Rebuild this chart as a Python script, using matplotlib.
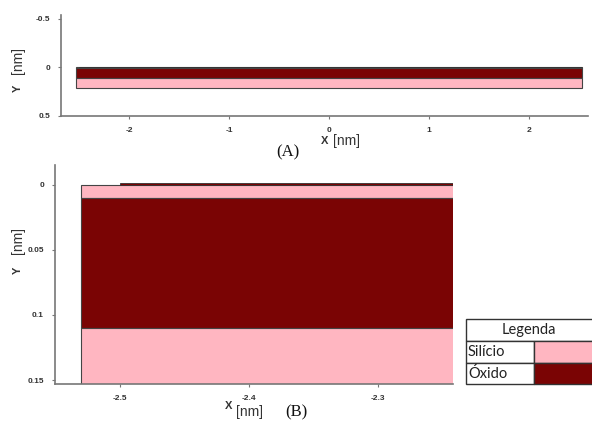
import matplotlib.pyplot as plt
from matplotlib.patches import Rectangle

# layer stack (y in nm, positive downward)
materials = ['Silício', 'Óxido', 'Silício']
layer_top = [0.0, 0.01, 0.11]
layer_bottom = [0.01, 0.11, 0.21]
x_left, x_right = -2.53, 2.53
# thin oxide cap on top surface
cap_x = [-2.5, 2.53]
cap_y = [-0.0012, 0.0]

colors = {'Silício': '#ffb6c1', 'Óxido': '#7a0404'}
edge = '#444444'

xticks_a = [-2, -1, 0, 1, 2]
yticks_a = [-0.5, 0, 0.5]
xticks_b = [-2.5, -2.4, -2.3]
yticks_b = [0, 0.05, 0.1, 0.15]
ytick_labels_b = ['0', '0.05', '0.1', '0.15']

fig = plt.figure(figsize=(5.92, 4.24), dpi=100)


def draw_stack(ax):
    for m, t, b in zip(materials, layer_top, layer_bottom):
        ax.add_patch(Rectangle((x_left, t), x_right - x_left, b - t,
                               facecolor=colors[m], edgecolor=edge, linewidth=0.8))
    ax.add_patch(Rectangle((cap_x[0], cap_y[0]), cap_x[1] - cap_x[0], cap_y[1] - cap_y[0],
                           facecolor=colors['Óxido'], edgecolor='#333333', linewidth=0.6))


def style(ax):
    for s in ['top', 'right']:
        ax.spines[s].set_visible(False)
    for s in ['left', 'bottom']:
        ax.spines[s].set_color('#777777')
        ax.spines[s].set_linewidth(1.2)
    ax.tick_params(length=2, width=0.8, color='#777777', labelsize=6, pad=6)
    for lbl in ax.get_xticklabels() + ax.get_yticklabels():
        lbl.set_fontweight('bold')
        lbl.set_fontfamily('Liberation Sans')
        lbl.set_color('#333333')


# panel A
ax1 = fig.add_axes([61 / 592, 1 - 116 / 424, 527 / 592, 101 / 424])
draw_stack(ax1)
ax1.set_xlim(-2.68, 2.59)
ax1.set_ylim(0.5, -0.54)
ax1.set_xticks(xticks_a)
ax1.set_xticklabels([str(v) for v in xticks_a])
ax1.set_yticks(yticks_a)
ax1.set_yticklabels(['-0.5', '0', '0.5'])
style(ax1)

# panel B
ax2 = fig.add_axes([55 / 592, 1 - 384 / 424, 398 / 592, 219 / 424])
draw_stack(ax2)
ax2.set_xlim(-2.55, -2.242)
ax2.set_ylim(0.153, -0.015)
ax2.set_xticks(xticks_b)
ax2.set_xticklabels([str(v) for v in xticks_b])
ax2.set_yticks(yticks_b)
ax2.set_yticklabels(ytick_labels_b)
style(ax2)

# axis labels
lab = dict(family='Liberation Sans', color='#333333')
fig.text(18 / 592, 1 - 88 / 424, 'Y', rotation=90, fontsize=8, fontweight='bold', ha='center', va='center', **lab)
fig.text(18 / 592, 1 - 60 / 424, '[nm]', rotation=90, fontsize=10, ha='center', va='center', **lab)
fig.text(325 / 592, 1 - 141 / 424, 'X', fontsize=8, fontweight='bold', ha='center', va='center', **lab)
fig.text(333 / 592, 1 - 141 / 424, '[nm]', fontsize=10, ha='left', va='center', **lab)
fig.text(18 / 592, 1 - 270 / 424, 'Y', rotation=90, fontsize=8, fontweight='bold', ha='center', va='center', **lab)
fig.text(18 / 592, 1 - 241 / 424, '[nm]', rotation=90, fontsize=10, ha='center', va='center', **lab)
fig.text(229 / 592, 1 - 406 / 424, 'X', fontsize=8, fontweight='bold', ha='center', va='center', **lab)
fig.text(236 / 592, 1 - 412 / 424, '[nm]', fontsize=10, ha='left', va='center', **lab)

fig.text(288 / 592, 1 - 152 / 424, '(A)', fontsize=12, family='Liberation Serif', ha='center', va='center', color='#111111')
fig.text(296 / 592, 1 - 412 / 424, '(B)', fontsize=12, family='Liberation Serif', ha='center', va='center', color='#111111')

# legend table
axl = fig.add_axes([466 / 592, 1 - 384 / 424, 140 / 592, 65 / 424])
axl.set_xlim(466, 606)
axl.set_ylim(384, 319)
axl.axis('off')
rows = [319, 341, 363, 384]
axl.add_patch(Rectangle((466, 319), 140, 22, facecolor='white', edgecolor='#333333', linewidth=1, clip_on=False))
axl.text(529, 330, 'Legenda', fontsize=10.5, family='Lato', ha='center', va='center', color='#222222')
for i, m in enumerate(['Silício', 'Óxido']):
    y0 = rows[i + 1]
    h = rows[i + 2] - y0
    axl.add_patch(Rectangle((466, y0), 68, h, facecolor='white', edgecolor='#333333', linewidth=1, clip_on=False))
    axl.add_patch(Rectangle((534, y0), 72, h, facecolor=colors[m], edgecolor='#333333', linewidth=1, clip_on=False))
    axl.text(468, y0 + h / 2, m, fontsize=10.5, family='Lato', ha='left', va='center', color='#222222')

fig.savefig('out.png', dpi=100)
